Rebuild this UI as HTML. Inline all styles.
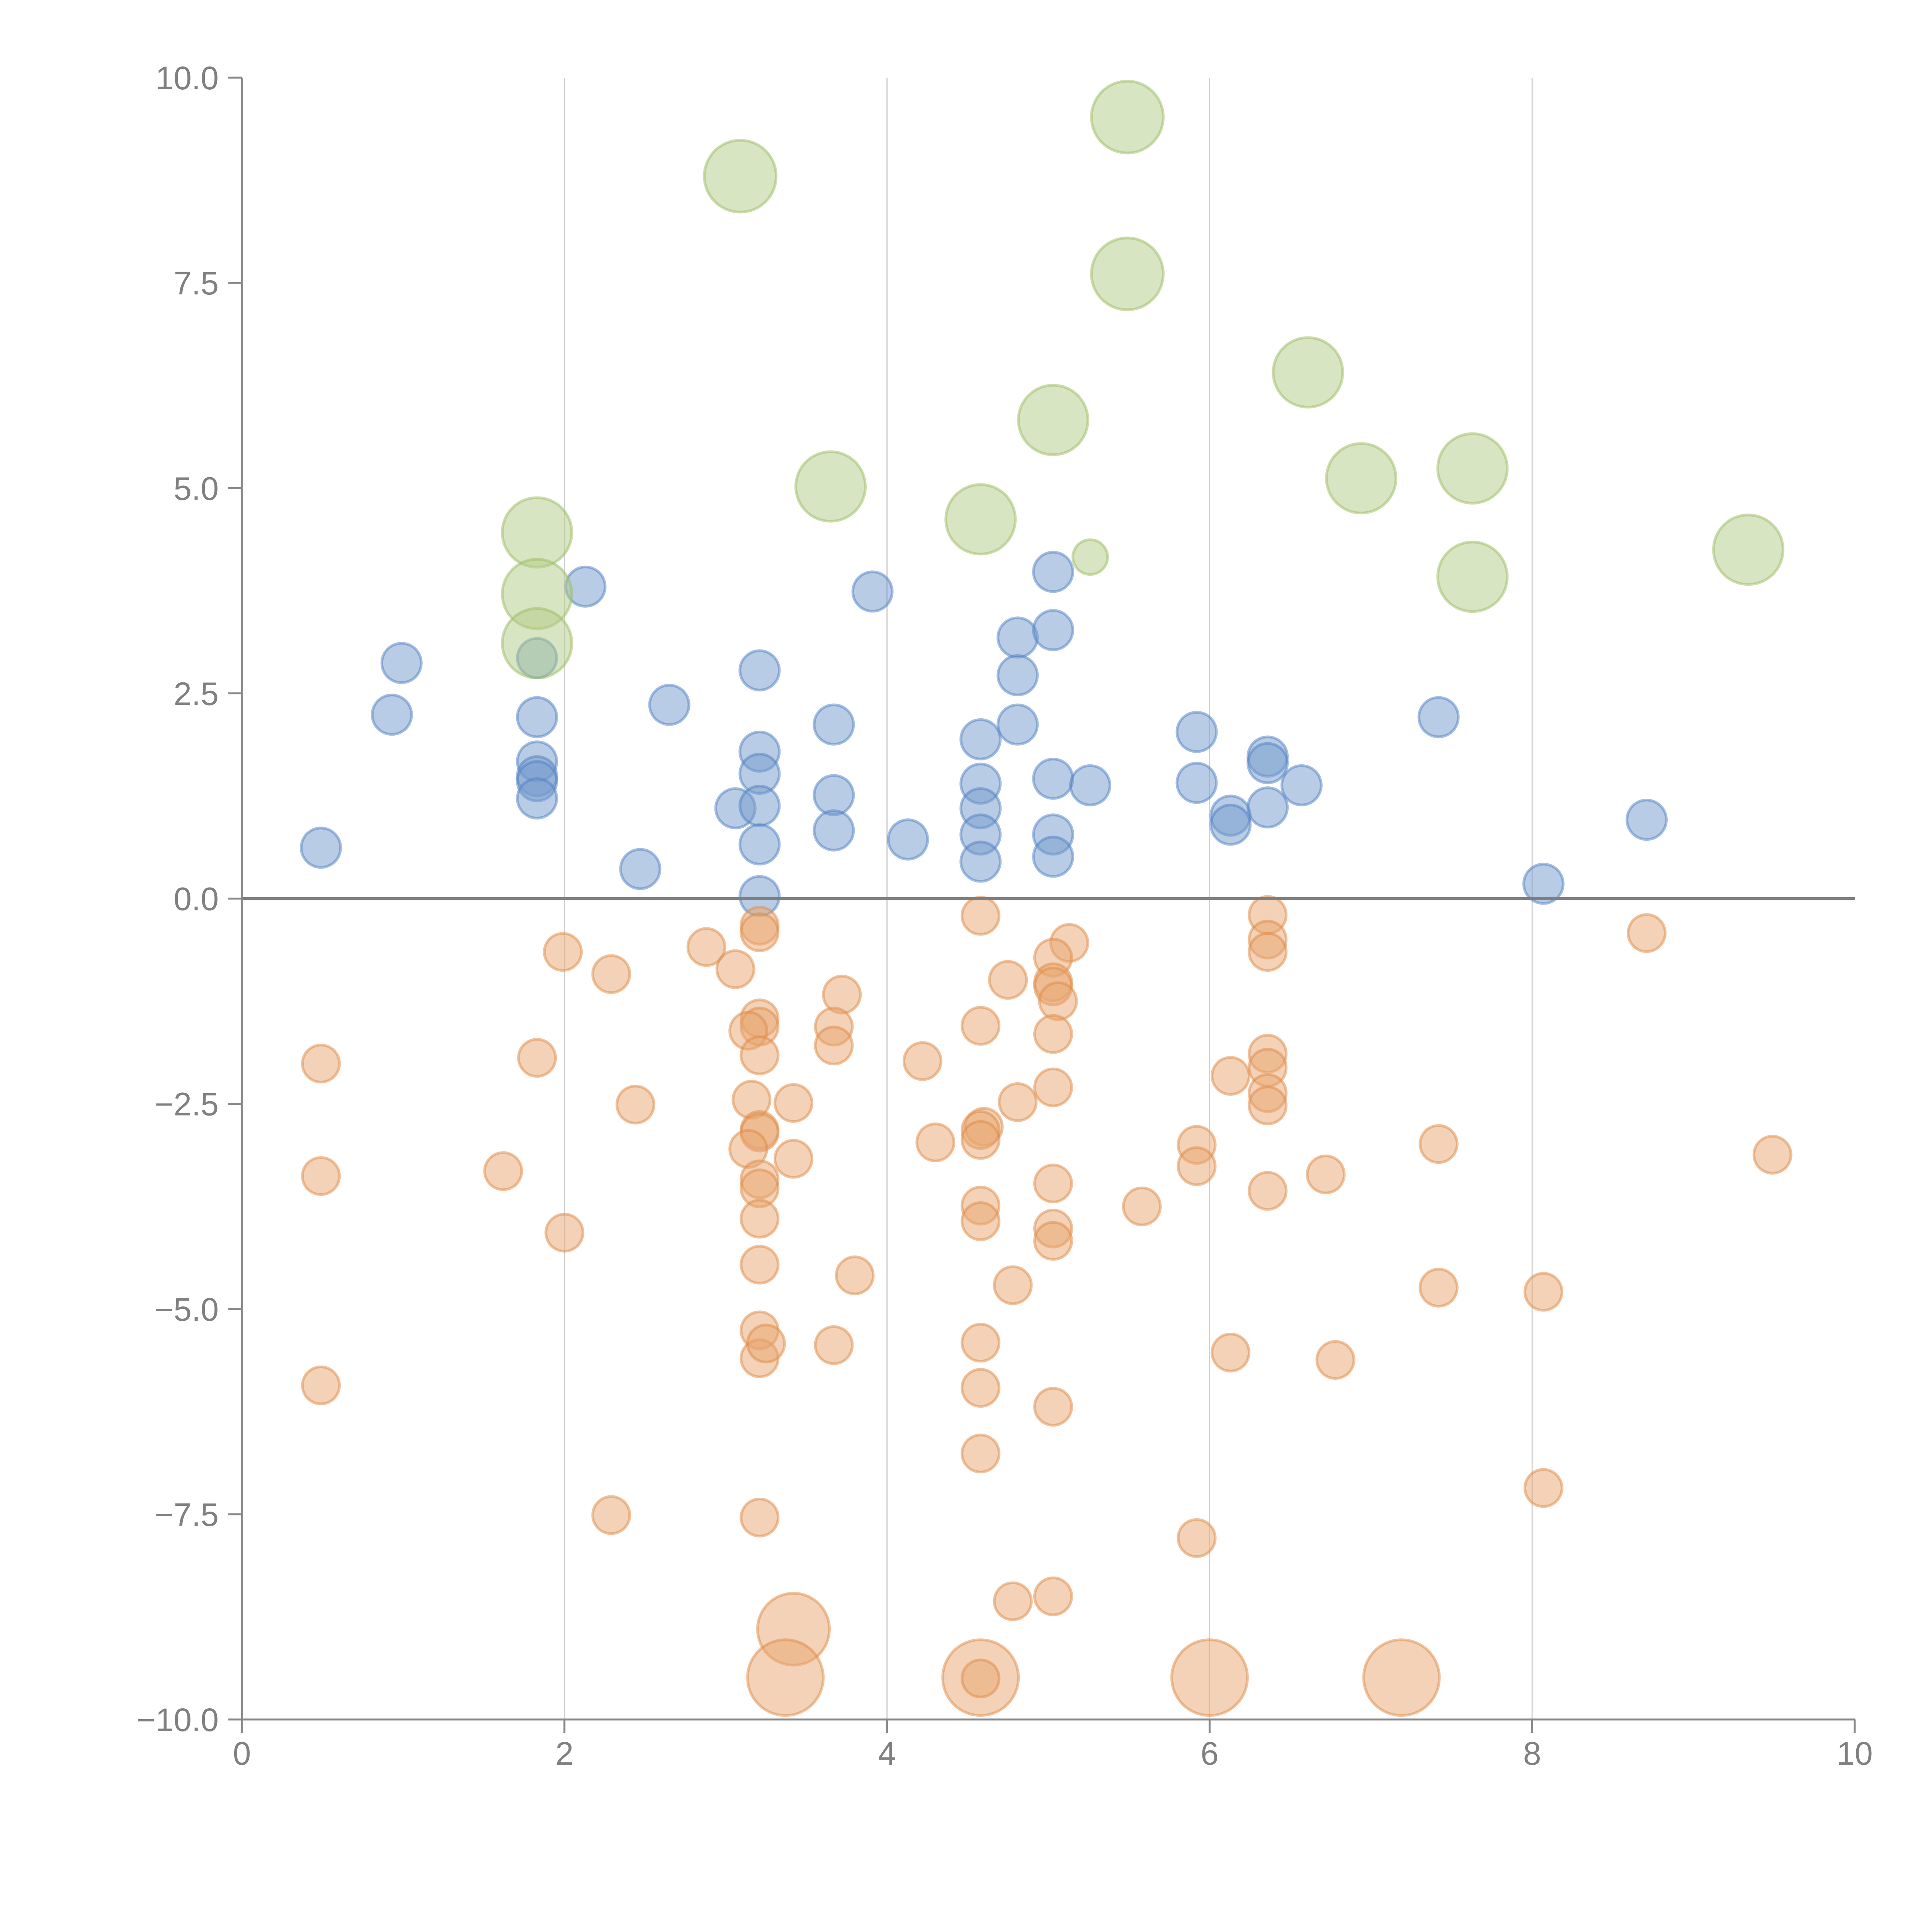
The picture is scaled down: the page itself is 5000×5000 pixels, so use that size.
<!DOCTYPE html>
<html><head><meta charset="utf-8">
<style>html,body{margin:0;padding:0;background:#fff;}svg{display:block;}</style>
</head><body>
<svg id="chart" width="5000" height="5000" xmlns="http://www.w3.org/2000/svg">
<g id="grid"></g>
<g id="marks"></g>
<g id="axes"></g>
</svg>
<script>
const xTicks = [0,2,4,6,8,10];
const yTicks = [-10,-7.5,-5,-2.5,0,2.5,5,7.5,10];
const yTickLabels = ["\u221210.0","\u22127.5","\u22125.0","\u22122.5","0.0","2.5","5.0","7.5","10.0"];
const greenX = [5.49,3.09,5.49,6.61,5.03,3.65,6.94,7.63,4.58,1.83,5.26,9.34,7.63,1.83,1.83];
const greenY = [9.52,8.80,7.61,6.41,5.83,5.02,5.12,5.24,4.62,4.46,4.16,4.25,3.92,3.71,3.11];
const greenS = [93,93,93,90,90,90,90,90,90,90,45,90,90,90,90];
const blueX = [2.13,3.91,5.03,4.81,5.03,0.99,1.83,3.21,4.81,0.93,1.83,2.65,3.67,4.81,4.58,5.92,7.42,1.83,1.83,1.83,1.83,3.21,3.21,3.06,3.21,3.21,3.67,3.67,4.13,4.58,4.58,4.58,4.58,5.03,5.03,5.03,5.26,5.92,6.13,6.13,6.36,6.36,6.36,6.57,0.49,2.47,3.21,8.07,8.71];
const blueY = [3.80,3.74,3.98,3.18,3.27,2.87,2.93,2.78,2.72,2.24,2.21,2.36,2.12,2.12,1.94,2.03,2.21,1.67,1.49,1.43,1.22,1.79,1.52,1.10,1.13,0.66,1.26,0.83,0.72,1.40,1.10,0.78,0.45,1.46,0.78,0.51,1.38,1.41,1.01,0.90,1.73,1.65,1.11,1.38,0.62,0.36,0.03,0.18,0.96];
const orangeX = [4.58,6.36,6.36,6.36,5.13,5.03,3.21,3.21,1.99,2.88,3.06,2.29,4.75,5.03,5.03,5.06,8.71,3.72,3.21,3.21,3.14,3.67,3.67,4.58,5.03,3.21,1.83,0.49,4.22,6.36,6.36,6.13,5.03,6.36,6.36,4.81,3.16,3.42,2.44,3.21,3.21,4.60,4.58,4.58,4.30,5.92,7.42,3.14,9.49,3.42,5.92,1.62,0.49,3.21,3.21,6.72,5.03,6.36,4.58,5.58,3.21,4.58,5.03,5.03,2.00,3.21,3.80,4.78,7.42,8.07,3.21,3.21,3.25,3.67,4.58,6.13,6.78,0.49,4.58,5.03,4.58,2.29,3.21,8.07,5.92,4.78,5.03,3.42,3.37,4.58,4.58,6.00,7.19];
const orangeY = [-0.21,-0.20,-0.50,-0.65,-0.54,-0.72,-0.33,-0.41,-0.65,-0.59,-0.86,-0.92,-0.99,-1.02,-1.07,-1.25,-0.42,-1.17,-1.46,-1.56,-1.61,-1.56,-1.79,-1.55,-1.65,-1.91,-1.94,-2.01,-1.98,-1.89,-2.06,-2.16,-2.30,-2.37,-2.52,-2.48,-2.45,-2.49,-2.51,-2.82,-2.85,-2.78,-2.82,-2.94,-2.97,-3.00,-2.99,-3.05,-3.12,-3.17,-3.26,-3.32,-3.38,-3.42,-3.53,-3.36,-3.47,-3.56,-3.74,-3.75,-3.90,-3.93,-4.02,-4.17,-4.07,-4.46,-4.59,-4.71,-4.74,-4.79,-5.26,-5.60,-5.42,-5.44,-5.41,-5.53,-5.62,-5.93,-5.96,-6.19,-6.76,-7.51,-7.54,-7.18,-7.79,-8.56,-8.50,-8.90,-9.49,-9.49,-9.50,-9.49,-9.49];
const orangeS = [48,48,48,48,48,48,48,48,48,48,48,48,48,48,48,48,48,48,48,48,48,48,48,48,48,48,48,48,48,48,48,48,48,48,48,48,48,48,48,48,48,48,48,48,48,48,48,48,48,48,48,48,48,48,48,48,48,48,48,48,48,48,48,48,48,48,48,48,48,48,48,48,48,48,48,48,48,48,48,48,48,48,48,48,48,48,48,93,98,98,48,98,98];

const NS='http://www.w3.org/2000/svg';
const X0=626,X1=4800,Y0=4450,Y1=201;
function sx(v){return X0+(v-0)/(10-0)*(X1-X0);}
function sy(v){return Y0-(v+10)/20*(Y0-Y1);}
function mk(parent,tag,attrs){const e=document.createElementNS(NS,tag);for(const k in attrs)e.setAttribute(k,attrs[k]);parent.appendChild(e);return e;}
const grid=document.getElementById('grid'),marks=document.getElementById('marks'),axes=document.getElementById('axes');
xTicks.forEach(t=>{if(t>0&&t<10){const l=mk(grid,'line',{x1:sx(t),x2:sx(t),y1:Y1,y2:Y0,stroke:'#cfcfcf','stroke-width':3});

}});
function series(xs,ys,ss,fill,stroke,name){xs.forEach((x,i)=>{const c=mk(marks,'circle',{cx:sx(x),cy:sy(ys[i]),r:ss?ss[i]:51,fill:fill,stroke:stroke,'stroke-width':7,'fill-opacity':0.5,'stroke-opacity':0.5});

});}
series(blueX,blueY,null,'#7499cc','#4f7fc4','blue-bubble');
series(orangeX,orangeY,orangeS,'#e7a670','#e08a45','orange-bubble');
series(greenX,greenY,greenS,'#b2cb85','#9cbc62','green-bubble');
const z=mk(axes,'line',{x1:X0,x2:X1,y1:sy(0),y2:sy(0),stroke:'#808080','stroke-width':7});


const ya=mk(axes,'line',{x1:X0,x2:X0,y1:Y1,y2:Y0,stroke:'#888','stroke-width':5});


const xa=mk(axes,'line',{x1:X0,x2:X1,y1:Y0,y2:Y0,stroke:'#888','stroke-width':5});


yTicks.forEach((t,i)=>{mk(axes,'line',{x1:X0-35,x2:X0,y1:sy(t),y2:sy(t),stroke:'#888','stroke-width':5});
const tx=mk(axes,'text',{x:X0-60,y:sy(t)+30,'text-anchor':'end','font-family':'Liberation Sans, sans-serif','font-size':84,fill:'#808080'});
tx.textContent=yTickLabels[i];

});
xTicks.forEach(t=>{mk(axes,'line',{x1:sx(t),x2:sx(t),y1:Y0,y2:Y0+35,stroke:'#888','stroke-width':5});
const tx=mk(axes,'text',{x:sx(t),y:Y0+117,'text-anchor':'middle','font-family':'Liberation Sans, sans-serif','font-size':84,fill:'#808080'});
tx.textContent=String(t);

});
</script>
</body></html>
